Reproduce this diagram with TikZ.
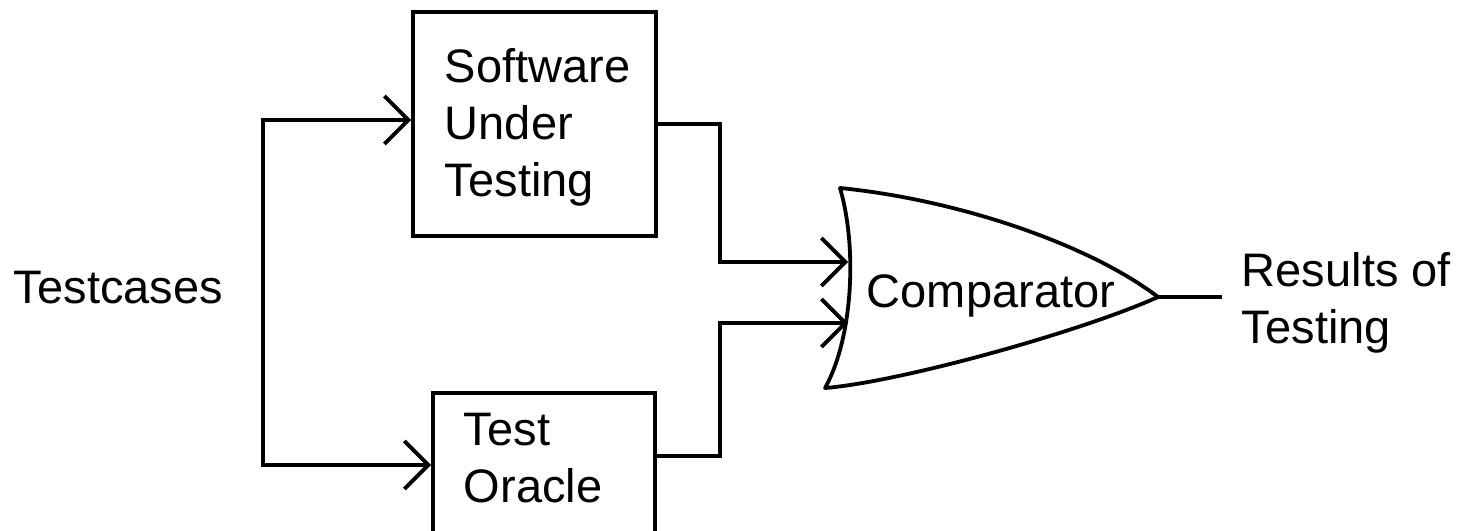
\documentclass[tikz,border=0pt]{standalone}
\usepackage{fontspec}
\setmainfont{Liberation Sans}
\usetikzlibrary{arrows.meta,calc}
\begin{document}
\begin{tikzpicture}[x=0.5pt,y=-0.5pt,
  line width=1.9pt,
  lbl/.style={inner sep=0pt, anchor=base west, align=left, font=\fontsize{23.5}{28.3}\selectfont},
  blk/.style={draw, inner sep=0pt, line width=1.9pt},
  barb/.tip={Straight Barb[length=12pt,width=24pt,line width=1.9pt]},
  arr/.style={-barb, line join=miter},
  arr2/.style={barb-barb, line join=miter}
]
\clip (0,0) rectangle (1459,530);
\fill[white] (0,0) rectangle (1459,530);
% boxes
\node[blk, minimum width=121.5pt, minimum height=112pt] (sut) at (534.5,124) {};
\node[blk, minimum width=111pt, minimum height=76pt] (oracle) at (544,469) {};
% labels (anchor is at the baseline of the last line)
\node[lbl] (testcases) at (12,303) {Testcases};
\node[lbl] (suttext) at (443,196) {Software\\Under\\Testing};
\node[lbl] (oracletext) at (462,502) {Test\\Oracle};
\node[lbl] (comptext) at (865,307) {Comparator};
\node[lbl] (results) at (1240,343) {Results of\\Testing};
% comparator shape
\coordinate (ca) at (840,188);
\coordinate (cb) at (825,388);
\coordinate (cout) at (1158,297);
\coordinate (cin1) at (848,262);
\coordinate (cin2) at (848,323);
\draw[line join=round] (ca) .. controls (858,250) and (852,340) .. (cb)
  .. controls (900,382) and (1080,332) .. (cout)
  .. controls (1090,245) and (960,200) .. (ca) -- cycle;
% connectors
\coordinate (ta) at (263,120);
\coordinate (tb) at (263,465);
\coordinate (k1) at (720,262);
\coordinate (k2) at (720,323);
\coordinate (rend) at (1222,297);
\draw[arr2] (ta -| sut.west) -- (ta) -- (tb) -- (tb -| oracle.west);
\draw[arr] (sut.east) -| (k1) -- (cin1);
\draw[arr] ($(oracle.north east)+(0,65)$) -| (k2) -- (cin2);
\draw (cout) -- (rend);
\end{tikzpicture}
\end{document}
